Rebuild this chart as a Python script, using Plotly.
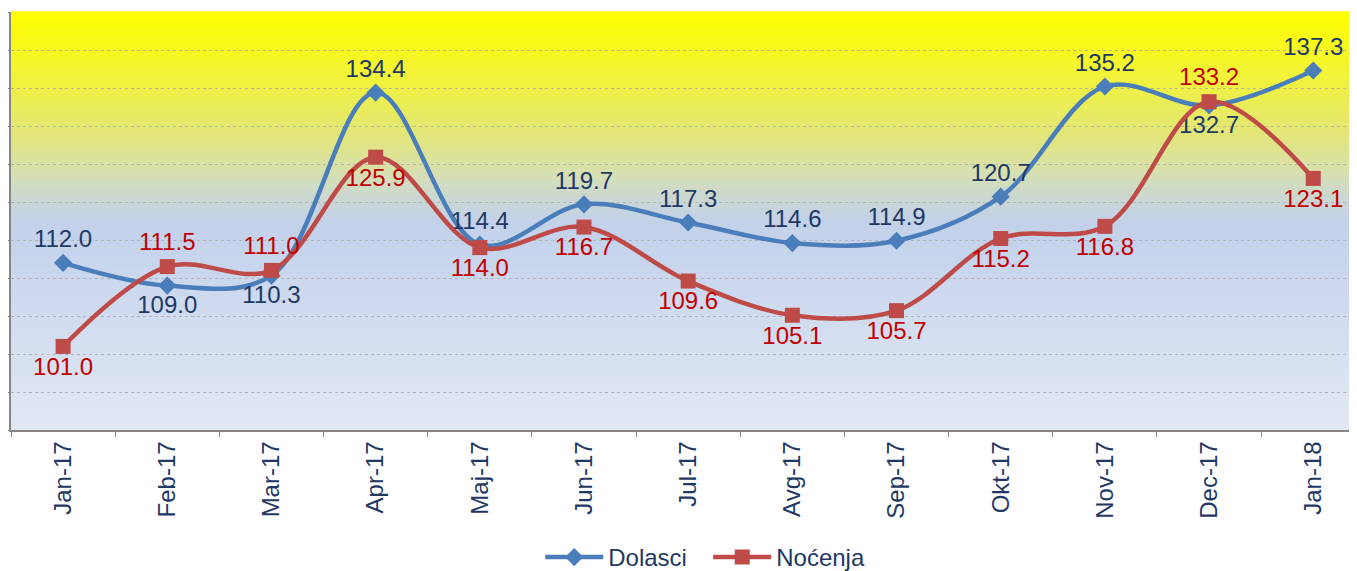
import plotly.graph_objects as go

months = ["Jan-17", "Feb-17", "Mar-17", "Apr-17", "Maj-17", "Jun-17", "Jul-17",
          "Avg-17", "Sep-17", "Okt-17", "Nov-17", "Dec-17", "Jan-18"]
dolasci = [112.0, 109.0, 110.3, 134.4, 114.4, 119.7, 117.3, 114.6, 114.9, 120.7, 135.2, 132.7, 137.3]
nocenja = [101.0, 111.5, 111.0, 125.9, 114.0, 116.7, 109.6, 105.1, 105.7, 115.2, 116.8, 133.2, 123.1]

dol_pos = ["top center", "bottom center", "bottom center", "top center", "top center", "top center",
           "top center", "top center", "top center", "top center", "top center", "bottom center", "top center"]
noc_pos = ["bottom center", "top center", "top center", "bottom center", "bottom center", "bottom center",
           "bottom center", "bottom center", "bottom center", "bottom center", "bottom center", "top center",
           "bottom center"]

FONT = "Liberation Sans, Arial, sans-serif"
NAVY = "#1f3864"
RED_TXT = "#c00000"

fig = go.Figure()
fig.add_trace(go.Scatter(
    x=months, y=dolasci, name="Dolasci", mode="lines+markers+text",
    line=dict(color="#4a7ebb", width=4.5, shape="spline", smoothing=1),
    marker=dict(symbol="diamond", size=14, color="#4a7ebb"),
    text=[f"{v:.1f}" for v in dolasci], textposition=dol_pos,
    textfont=dict(family=FONT, size=24, color=NAVY), cliponaxis=False,
))
fig.add_trace(go.Scatter(
    x=months, y=nocenja, name="Noćenja", mode="lines+markers+text",
    line=dict(color="#be4b48", width=4.5, shape="spline", smoothing=1),
    marker=dict(symbol="square", size=15, color="#be4b48"),
    text=[f"{v:.1f}" for v in nocenja], textposition=noc_pos,
    textfont=dict(family=FONT, size=24, color=RED_TXT), cliponaxis=False,
))

# gradient background (bands), t = fraction from top of plot area
stops = [(0.0, (255, 255, 0)), (0.09, (248, 248, 30)), (0.186, (238, 240, 70)),
         (0.273, (228, 232, 110)), (0.33, (222, 228, 140)), (0.40, (212, 222, 185)),
         (0.45, (202, 215, 212)), (0.50, (195, 210, 232)), (0.545, (196, 211, 236)),
         (1.0, (226, 232, 243))]

def col(t):
    for (t0, c0), (t1, c1) in zip(stops[:-1], stops[1:]):
        if t0 <= t <= t1:
            f = (t - t0) / (t1 - t0) if t1 > t0 else 0
            return "rgb(%d,%d,%d)" % tuple(round(a + (b - a) * f) for a, b in zip(c0, c1))
    return "rgb(%d,%d,%d)" % stops[-1][1]

N = 140
shapes = []
for i in range(N):
    t = (i + 0.5) / N
    shapes.append(dict(type="rect", xref="x domain", yref="y domain", x0=0, x1=1,
                       y0=1 - (i + 1) / N, y1=1 - i / N + 0.002, fillcolor=col(t),
                       line=dict(width=0), layer="below"))

fig.update_layout(
    width=1349, height=563,
    margin=dict(l=3, r=0, t=4, b=141, autoexpand=False),
    paper_bgcolor="white", plot_bgcolor="white",
    shapes=shapes,
    showlegend=True,
    legend=dict(orientation="h", x=0.518, xanchor="center", y=-0.305, yanchor="middle",
                font=dict(family=FONT, size=24, color=NAVY), itemwidth=58,
                entrywidth=95, bgcolor="rgba(0,0,0,0)"),
    xaxis=dict(type="category", range=[-0.5, 12.42], tickson="boundaries",
               showgrid=False, ticks="outside", ticklen=5, tickcolor="#868686",
               showline=True, linecolor="#868686", linewidth=1.5, tickangle=-90,
               tickfont=dict(family=FONT, size=24, color=NAVY)),
    yaxis=dict(range=[90, 145], dtick=5, showticklabels=False, ticks="outside",
               ticklen=4, tickcolor="#868686", showline=True, linecolor="#868686",
               linewidth=1.5, showgrid=True, gridcolor="#b4b4b4", griddash="dot",
               gridwidth=1, zeroline=False),
)

fig.write_html("out.html")
